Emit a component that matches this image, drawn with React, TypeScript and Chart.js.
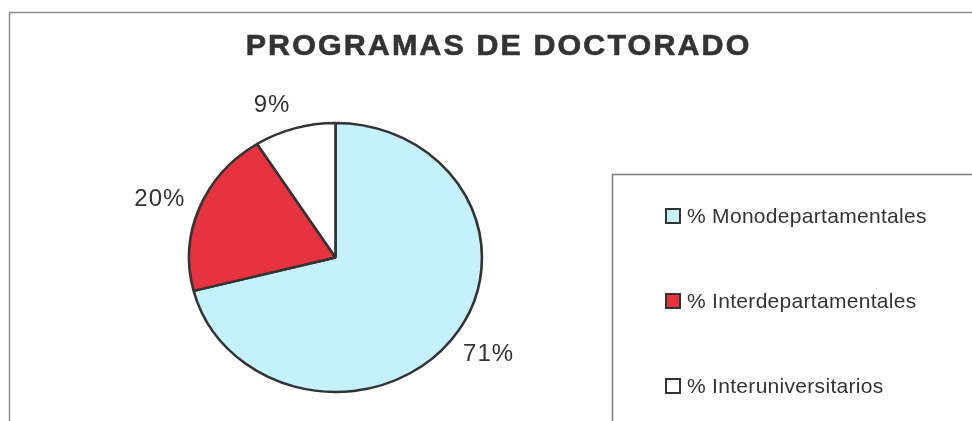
import React, { useEffect, useRef } from "react";
import { Chart, registerables } from "chart.js";

Chart.register(...registerables);

// ---- data ----
const TITLE = "PROGRAMAS DE DOCTORADO";
const categories = ["% Monodepartamentales", "% Interdepartamentales", "% Interuniversitarios"];
const values = [71, 20, 9];
const valueLabels = ["71%", "20%", "9%"];
const sliceColors = ["#c4f1fb", "#e6333f", "#ffffff"];

// ---- layout / style ----
const W = 972;
const H = 421;
const TEXT = "#333333";
const FONT = "'Liberation Sans', Arial, Helvetica, sans-serif";
const PIE_SX = 1.046; // the original pie is a slightly wide ellipse
const PIE_SY = 0.961;
const TITLE_SX = 1.05; // the original title face is a little wider than Arial

const decorPlugin = {
  id: "decor",
  beforeDraw(chart: any) {
    const { ctx } = chart;
    ctx.save();
    ctx.fillStyle = "#ffffff";
    ctx.fillRect(0, 0, W, H);
    // outer frame
    ctx.strokeStyle = "#8c8c8c";
    ctx.lineWidth = 1.5;
    ctx.beginPath();
    ctx.moveTo(9.5, H + 5);
    ctx.lineTo(9.5, 12.5);
    ctx.lineTo(W + 5, 12.5);
    ctx.stroke();
    // legend frame
    ctx.strokeStyle = "#7c7c7c";
    ctx.beginPath();
    ctx.moveTo(612.5, H + 5);
    ctx.lineTo(612.5, 174.5);
    ctx.lineTo(W + 5, 174.5);
    ctx.stroke();
    ctx.restore();
  },
  beforeDatasetsDraw(chart: any) {
    const { ctx, chartArea } = chart;
    const cx = (chartArea.left + chartArea.right) / 2;
    const cy = (chartArea.top + chartArea.bottom) / 2;
    ctx.save();
    ctx.translate(cx, cy);
    ctx.scale(PIE_SX, PIE_SY);
    ctx.translate(-cx, -cy);
  },
  afterDatasetsDraw(chart: any) {
    chart.ctx.restore();
  },
  afterDraw(chart: any) {
    const { ctx } = chart;
    ctx.save();

    // title
    ctx.save();
    ctx.fillStyle = TEXT;
    ctx.strokeStyle = TEXT;
    ctx.lineWidth = 0.6;
    ctx.textAlign = "center";
    ctx.textBaseline = "middle";
    ctx.font = `bold 29px ${FONT}`;
    (ctx as any).letterSpacing = "2px";
    ctx.translate(497.5, 47);
    ctx.scale(TITLE_SX, 1);
    ctx.fillText(TITLE, 1, 0);
    ctx.strokeText(TITLE, 1, 0);
    ctx.restore();

    ctx.fillStyle = TEXT;
    ctx.textAlign = "center";
    ctx.textBaseline = "middle";

    // percentage labels outside each slice
    (ctx as any).letterSpacing = "1px";
    ctx.font = `24px ${FONT}`;
    const meta = chart.getDatasetMeta(0);
    meta.data.forEach((arc: any, i: number) => {
      const p = arc.getProps(["x", "y", "startAngle", "endAngle", "outerRadius"], true);
      const mid = (p.startAngle + p.endAngle) / 2;
      const dx = Math.cos(mid);
      const dy = Math.sin(mid);
      const ex = p.x + dx * p.outerRadius * PIE_SX;
      const ey = p.y + dy * p.outerRadius * PIE_SY;
      const label = valueLabels[i];
      const tw = ctx.measureText(label).width;
      const th = 18;
      const gap = 15;
      const lx = ex + dx * gap + Math.sign(dx) * tw / 2;
      const ly = ey + dy * gap + dy * th / 2;
      ctx.fillText(label, lx, ly);
    });

    // legend
    (ctx as any).letterSpacing = "0.3px";
    ctx.font = `21px ${FONT}`;
    ctx.textAlign = "left";
    const legendX = 665;
    const legendY0 = 216;
    const legendStep = 85;
    const box = 16;
    const ds = chart.data.datasets[0];
    (chart.data.labels as string[]).forEach((lab, i) => {
      const y = legendY0 + i * legendStep;
      ctx.fillStyle = ds.backgroundColor[i];
      ctx.fillRect(legendX, y - box / 2, box, box);
      ctx.strokeStyle = "#333333";
      ctx.lineWidth = 2;
      ctx.strokeRect(legendX + 1, y - box / 2 + 1, box - 2, box - 2);
      ctx.fillStyle = TEXT;
      ctx.fillText(lab, legendX + box + 6, y + 1);
    });

    ctx.restore();
  },
};

export default function App() {
  const ref = useRef<HTMLCanvasElement | null>(null);

  useEffect(() => {
    document.body.style.margin = "0";
    const canvas = ref.current;
    if (!canvas) return;
    const chart = new Chart(canvas, {
      type: "pie",
      data: {
        labels: categories,
        datasets: [
          {
            data: values,
            backgroundColor: sliceColors,
            borderColor: "#333333",
            borderWidth: 2.5,
            radius: 140,
          } as any,
        ],
      },
      options: {
        responsive: false,
        animation: false,
        devicePixelRatio: 1,
        layout: { padding: { left: 185.5, right: 486.5, top: 107.5, bottom: 13.5 } },
        plugins: {
          legend: { display: false },
          title: { display: false },
          tooltip: { enabled: false },
        },
      },
      plugins: [decorPlugin],
    });
    return () => chart.destroy();
  }, []);

  return (
    <div style={{ width: W, height: H, position: "relative", background: "#fff" }}>
      <canvas ref={ref} width={W} height={H} style={{ width: W, height: H, display: "block" }} />
    </div>
  );
}
